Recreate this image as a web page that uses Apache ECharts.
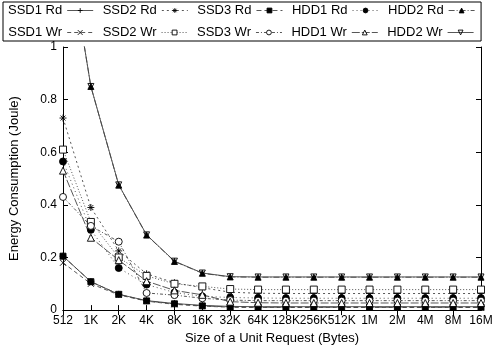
<!DOCTYPE html>
<html>
<head>
<meta charset="utf-8">
<script src="https://cdn.jsdelivr.net/npm/echarts@6/dist/echarts.min.js"></script>
<style>
  html, body { margin: 0; padding: 0; background: #fff; }
  #chart { width: 500px; height: 350px; }
</style>
</head>
<body>
<div id="chart"></div>
<script>
// Request sizes (x categories)
const sizes = ['512', '1K', '2K', '4K', '8K', '16K', '32K', '64K', '128K', '256K', '512K', '1M', '2M', '4M', '8M', '16M'];
const yTicks = [0, 0.2, 0.4, 0.6, 0.8, 1];

// Energy per request (Joule)
const ssd1Rd = [0.205, 0.108, 0.060, 0.036, 0.025, 0.018, 0.014, 0.013, 0.013, 0.013, 0.013, 0.013, 0.013, 0.013, 0.013, 0.013];
const ssd2Rd = [0.730, 0.390, 0.225, 0.138, 0.104, 0.085, 0.068, 0.064, 0.063, 0.063, 0.063, 0.063, 0.063, 0.063, 0.063, 0.063];
const ssd3Rd = [0.205, 0.108, 0.060, 0.035, 0.024, 0.016, 0.012, 0.011, 0.011, 0.011, 0.011, 0.011, 0.011, 0.011, 0.011, 0.011];
const hdd1Rd = [0.565, 0.305, 0.160, 0.097, 0.067, 0.052, 0.048, 0.046, 0.045, 0.045, 0.045, 0.045, 0.045, 0.045, 0.045, 0.045];
const hdd2Rd = [1.500, 0.850, 0.475, 0.285, 0.185, 0.140, 0.126, 0.125, 0.125, 0.125, 0.125, 0.125, 0.125, 0.125, 0.125, 0.125];
const ssd1Wr = [0.180, 0.100, 0.058, 0.034, 0.022, 0.015, 0.011, 0.010, 0.010, 0.010, 0.010, 0.010, 0.010, 0.010, 0.010, 0.010];
const ssd2Wr = [0.610, 0.335, 0.200, 0.130, 0.100, 0.090, 0.080, 0.078, 0.078, 0.078, 0.078, 0.078, 0.078, 0.078, 0.078, 0.078];
const ssd3Wr = [0.430, 0.320, 0.260, 0.065, 0.057, 0.045, 0.038, 0.036, 0.036, 0.036, 0.036, 0.036, 0.036, 0.036, 0.036, 0.036];
const hdd1Wr = [0.530, 0.275, 0.190, 0.110, 0.075, 0.058, 0.032, 0.028, 0.027, 0.027, 0.027, 0.027, 0.027, 0.027, 0.027, 0.027];
const hdd2Wr = [1.500, 0.850, 0.476, 0.286, 0.186, 0.141, 0.127, 0.126, 0.126, 0.126, 0.126, 0.126, 0.126, 0.126, 0.126, 0.126];

// Point symbols
const PLUS = 'path://M0,5L10,5M5,0L5,10';
const CROSS = 'path://M1,1L9,9M1,9L9,1';
const STAR = 'path://M0,5L10,5M5,0L5,10M1.5,1.5L8.5,8.5M1.5,8.5L8.5,1.5';
const DOWN = 'path://M0,0L10,0L5,9Z';

const FONT = 'Liberation Sans, Arial, sans-serif';

function mk(name, data, symbol, fill, dash, size) {
  return {
    name, type: 'line', data,
    symbol, symbolSize: size || 7,
    clip: true,
    lineStyle: { color: '#444', width: 0.9, type: dash },
    itemStyle: {
      color: fill,
      borderColor: '#000',
      borderWidth: 0.9
    },
    emphasis: { disabled: true },
    z: 2
  };
}

const series = [
  mk('SSD1 Rd', ssd1Rd, PLUS, 'none', 'solid'),
  mk('SSD2 Rd', ssd2Rd, STAR, 'none', [2, 3]),
  mk('SSD3 Rd', ssd3Rd, 'rect', '#000', [5, 3], 6),
  mk('HDD1 Rd', hdd1Rd, 'circle', '#000', [1, 3]),
  mk('HDD2 Rd', hdd2Rd, 'triangle', '#000', [6, 2, 1, 2], 6),
  mk('SSD1 Wr', ssd1Wr, CROSS, 'none', [4, 3], 6),
  mk('SSD2 Wr', ssd2Wr, 'rect', '#fff', [1, 2]),
  mk('SSD3 Wr', ssd3Wr, 'circle', '#fff', [3, 2, 1, 2]),
  mk('HDD1 Wr', hdd1Wr, 'triangle', '#fff', [8, 2]),
  mk('HDD2 Wr', hdd2Wr, DOWN, 'none', 'solid', 6)
];

const chart = echarts.init(document.getElementById('chart'), null, { renderer: 'canvas' });
chart.setOption({
  animation: false,
  backgroundColor: '#fff',
  textStyle: { fontFamily: FONT, color: '#000' },
  legend: {
    left: 3, top: 2, width: 494,
    padding: [2, 6, 2, 5],
    itemGap: 9,
    itemWidth: 26, itemHeight: 6,
    align: 'right',
    borderColor: '#000', borderWidth: 1,
    itemStyle: { borderWidth: 0.9 },
    lineStyle: { width: 0.9 },
    textStyle: { fontFamily: FONT, fontSize: 13, color: '#000', width: 58, padding: [0, 0, 0, 0] },
    data: series.map(s => s.name)
  },
  grid: { left: 58, right: 19, top: 47, bottom: 34 },
  xAxis: [{
    type: 'category', data: sizes, boundaryGap: false,
    name: 'Size of a Unit Request (Bytes)', nameLocation: 'middle', nameGap: 21,
    nameTextStyle: { fontFamily: FONT, fontSize: 13, color: '#000' },
    axisLine: { lineStyle: { color: '#000', width: 1 } },
    axisTick: { inside: true, length: 5, lineStyle: { color: '#000' } },
    axisLabel: { fontFamily: FONT, fontSize: 12, color: '#000', margin: 5, interval: 0 },
    splitLine: { show: false }
  }, {
    type: 'category', data: sizes, boundaryGap: false, position: 'top',
    axisLine: { lineStyle: { color: '#000', width: 1 } },
    axisTick: { inside: true, length: 5, lineStyle: { color: '#000' } },
    axisLabel: { show: false }
  }],
  yAxis: [{
    type: 'value', min: 0, max: 1, interval: 0.2,
    name: 'Energy Consumption (Joule)', nameLocation: 'middle', nameGap: 42,
    nameTextStyle: { fontFamily: FONT, fontSize: 13, color: '#000' },
    axisLine: { show: true, lineStyle: { color: '#000', width: 1 } },
    axisTick: { show: true, inside: true, length: 5, lineStyle: { color: '#000' } },
    axisLabel: { fontFamily: FONT, fontSize: 12, color: '#000', margin: 6,
      customValues: yTicks },
    splitLine: { show: false }
  }, {
    type: 'value', min: 0, max: 1, interval: 0.2, position: 'right',
    axisLine: { show: true, lineStyle: { color: '#000', width: 1 } },
    axisTick: { show: true, inside: true, length: 5, lineStyle: { color: '#000' } },
    axisLabel: { show: false },
    splitLine: { show: false }
  }],
  series
});
</script>
</body>
</html>
